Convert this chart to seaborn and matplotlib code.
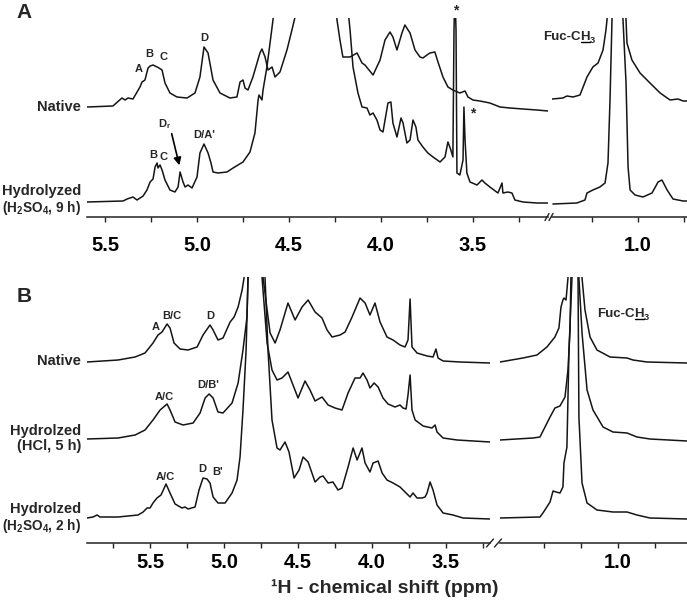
import numpy as np
import matplotlib
matplotlib.use("Agg")
import matplotlib.pyplot as plt
from matplotlib.lines import Line2D
from matplotlib.patches import FancyArrowPatch
from matplotlib.ticker import FormatStrFormatter
import seaborn as sns

W, H = 687, 602

# spectra: (ppm, intensity above the trace's own baseline)
# panel A, left window
a_native_left = [(5.598, 1), (5.457, 2), (5.408, 10), (5.391, 8), (5.375, 10), (5.348, 9), (5.310, 21),
                 (5.299, 26), (5.283, 28), (5.266, 40), (5.255, 42), (5.239, 43), (5.217, 41), (5.207, 40),
                 (5.190, 38), (5.174, 25), (5.147, 15), (5.109, 11), (5.054, 10), (5.011, 15), (4.984, 31),
                 (4.962, 61), (4.940, 55), (4.913, 28), (4.875, 15), (4.821, 10), (4.783, 11), (4.766, 26),
                 (4.750, 28), (4.739, 20), (4.723, 18), (4.696, 31), (4.658, 55), (4.647, 59), (4.630, 51),
                 (4.614, 38), (4.592, 41), (4.576, 31), (4.549, 36), (4.511, 58), (4.484, 78), (4.467, 91),
                 (4.457, 130), (4.348, 400), (4.250, 113), (4.239, 88), (4.223, 68), (4.207, 51), (4.168, 51),
                 (4.130, 55), (4.103, 45), (4.087, 43), (4.043, 33), (4.005, 48), (3.978, 68), (3.951, 76),
                 (3.935, 71), (3.913, 58), (3.886, 75), (3.870, 83), (3.842, 75), (3.815, 58), (3.788, 51),
                 (3.772, 50), (3.750, 53), (3.734, 55), (3.707, 56), (3.690, 46), (3.663, 31), (3.636, 21),
                 (3.609, 18), (3.571, 15), (3.543, 17), (3.527, 11), (3.500, 8), (3.462, 7), (3.408, 5),
                 (3.353, 1), (3.299, 0), (3.228, -1), (3.152, -2), (3.092, -3)]
a_hydro_left = [(5.598, 1), (5.402, 2), (5.380, 4), (5.348, 6), (5.326, 3), (5.293, 7), (5.272, 13),
                (5.255, 21), (5.239, 24), (5.228, 36), (5.217, 40), (5.212, 35), (5.201, 38), (5.190, 33),
                (5.174, 23), (5.147, 13), (5.120, 11), (5.103, 16), (5.092, 31), (5.076, 21), (5.065, 16),
                (5.049, 18), (5.027, 15), (5.000, 26), (4.984, 50), (4.962, 59), (4.940, 50), (4.924, 40),
                (4.913, 31), (4.886, 30), (4.837, 31), (4.804, 35), (4.750, 41), (4.712, 51), (4.685, 70),
                (4.668, 103), (4.663, 108), (4.647, 103), (4.641, 113), (4.620, 136), (4.603, 160),
                (4.587, 183), (4.576, 203), (4.576, 263), (4.185, 263), (4.179, 193), (4.168, 173),
                (4.152, 136), (4.125, 110), (4.103, 96), (4.076, 95), (4.060, 88), (4.043, 90), (4.022, 83),
                (4.005, 73), (3.989, 71), (3.962, 100), (3.946, 101), (3.935, 80), (3.913, 66), (3.891, 85),
                (3.880, 80), (3.859, 60), (3.842, 63), (3.826, 83), (3.810, 76), (3.799, 63), (3.772, 56),
                (3.745, 50), (3.717, 46), (3.679, 41), (3.652, 46), (3.636, 61), (3.620, 53), (3.609, 46),
                (3.603, 173), (3.598, 213), (3.592, 173), (3.587, 30), (3.571, 28), (3.554, 43), (3.549, 96),
                (3.543, 63), (3.533, 30), (3.516, 21), (3.478, 18), (3.451, 23), (3.435, 20), (3.408, 16),
                (3.364, 10), (3.342, 20), (3.337, 10), (3.310, 11), (3.288, 10), (3.272, 3), (3.228, 1),
                (3.152, 0), (3.092, 0)]
# panel A, right window (Fuc-CH3)
a_native_right = [(1.467, 9), (1.408, 10), (1.386, 12), (1.353, 11), (1.315, 13), (1.277, 31), (1.245, 41),
                  (1.217, 45), (1.190, 58), (1.174, 78), (1.163, 98), (1.158, 118), (1.071, 118), (1.065, 88),
                  (1.060, 65), (1.033, 48), (0.989, 35), (0.935, 25), (0.880, 15), (0.826, 8), (0.783, 9),
                  (0.755, 7), (0.734, 7)]
a_hydro_right = [(1.462, -1), (1.332, 0), (1.288, 3), (1.277, 10), (1.245, 13), (1.207, 16), (1.179, 20),
                 (1.163, 40), (1.152, 103), (1.141, 185), (1.136, 233), (1.087, 233), (1.082, 185),
                 (1.065, 120), (1.054, 36), (1.043, 13), (1.016, 8), (0.973, 6), (0.924, 10), (0.891, 21),
                 (0.870, 23), (0.842, 13), (0.810, 4), (0.755, 2), (0.734, 2)]

# panel B, left window
b_native_left = [(5.926, 0), (5.716, 2), (5.601, 5), (5.534, 9), (5.480, 19), (5.446, 27), (5.419, 30),
                 (5.385, 38), (5.365, 34), (5.338, 19), (5.297, 13), (5.243, 12), (5.182, 15), (5.142, 27),
                 (5.095, 37), (5.074, 32), (5.041, 22), (5.007, 24), (4.959, 40), (4.932, 45), (4.905, 55),
                 (4.878, 72), (4.865, 84), (4.851, 122), (4.797, 162), (4.743, 122), (4.736, 84), (4.709, 52),
                 (4.689, 29), (4.655, 19), (4.622, 32), (4.568, 59), (4.520, 42), (4.473, 55), (4.432, 62),
                 (4.385, 50), (4.338, 44), (4.304, 32), (4.270, 25), (4.216, 27), (4.182, 30), (4.135, 45),
                 (4.081, 64), (4.047, 59), (4.014, 47), (3.980, 59), (3.946, 40), (3.899, 25), (3.858, 22),
                 (3.811, 17), (3.777, 15), (3.757, 22), (3.743, 63), (3.730, 15), (3.696, 9), (3.628, 6),
                 (3.588, 5), (3.568, 13), (3.554, 4), (3.520, 1), (3.405, 0), (3.203, -1)]
b_hcl_left = [(5.926, 1), (5.716, 2), (5.601, 5), (5.534, 10), (5.480, 20), (5.432, 30), (5.385, 36),
              (5.365, 30), (5.331, 18), (5.277, 15), (5.209, 17), (5.162, 27), (5.128, 42), (5.101, 46),
              (5.074, 42), (5.041, 28), (5.007, 27), (4.946, 37), (4.905, 57), (4.872, 90), (4.845, 123),
              (4.838, 162), (4.831, 200), (4.791, 240), (4.750, 200), (4.743, 162), (4.709, 97), (4.676, 70),
              (4.642, 60), (4.608, 62), (4.568, 68), (4.534, 55), (4.500, 42), (4.453, 59), (4.419, 50),
              (4.385, 39), (4.338, 43), (4.297, 35), (4.250, 32), (4.203, 30), (4.162, 47), (4.115, 62),
              (4.081, 62), (4.061, 67), (4.034, 60), (4.014, 52), (3.986, 57), (3.959, 53), (3.926, 42),
              (3.892, 36), (3.845, 33), (3.811, 35), (3.791, 32), (3.770, 31), (3.757, 45), (3.743, 65),
              (3.730, 30), (3.709, 20), (3.655, 14), (3.595, 12), (3.574, 15), (3.561, 8), (3.520, 2),
              (3.426, 0), (3.203, -2)]
b_h2so4_left = [(5.926, 0), (5.885, 1), (5.858, 3), (5.838, 1), (5.716, 1), (5.581, 3), (5.547, 6),
                (5.520, 10), (5.500, 10), (5.480, 15), (5.453, 20), (5.426, 23), (5.392, 34), (5.365, 25),
                (5.331, 14), (5.284, 10), (5.264, 11), (5.243, 9), (5.196, 11), (5.169, 28), (5.142, 40),
                (5.115, 39), (5.095, 35), (5.074, 21), (5.041, 15), (4.993, 15), (4.946, 25), (4.912, 38),
                (4.892, 61), (4.872, 108), (4.851, 168), (4.838, 240), (4.831, 278), (4.777, 318),
                (4.730, 278), (4.723, 240), (4.703, 168), (4.676, 98), (4.642, 70), (4.622, 68), (4.588, 76),
                (4.561, 66), (4.527, 40), (4.493, 48), (4.466, 61), (4.432, 56), (4.385, 36), (4.351, 41),
                (4.331, 42), (4.297, 35), (4.264, 36), (4.230, 28), (4.203, 30), (4.162, 51), (4.128, 70),
                (4.101, 58), (4.068, 70), (4.047, 55), (4.014, 46), (3.993, 55), (3.959, 57), (3.932, 45),
                (3.899, 38), (3.858, 35), (3.811, 31), (3.777, 26), (3.743, 21), (3.723, 25), (3.696, 20),
                (3.662, 20), (3.642, 21), (3.628, 25), (3.608, 36), (3.588, 28), (3.561, 13), (3.520, 5),
                (3.453, 3), (3.385, 0), (3.203, -1)]
# panel B, right window (Fuc-CH3)
b_native_right = [(1.797, 0), (1.642, 4), (1.547, 7), (1.480, 15), (1.426, 25), (1.399, 34), (1.385, 55),
                  (1.372, 62), (1.365, 64), (1.351, 62), (1.338, 84), (1.331, 122), (1.291, 162), (1.250, 122),
                  (1.243, 84), (1.223, 52), (1.189, 25), (1.142, 12), (1.054, 5), (0.939, 4), (0.899, 2),
                  (0.804, 0), (0.534, -1)]
b_hcl_right = [(1.797, 0), (1.574, 2), (1.527, 3), (1.459, 23), (1.426, 32), (1.392, 34), (1.358, 43),
               (1.338, 70), (1.324, 110), (1.318, 162), (1.311, 200), (1.291, 240), (1.270, 200), (1.264, 162),
               (1.243, 107), (1.209, 50), (1.169, 30), (1.101, 13), (1.034, 8), (0.939, 7), (0.872, 3),
               (0.784, 1), (0.534, -1)]
b_h2so4_right = [(1.797, 0), (1.527, 1), (1.507, 5), (1.459, 16), (1.439, 27), (1.419, 26), (1.392, 25),
                 (1.372, 31), (1.365, 55), (1.345, 71), (1.331, 168), (1.311, 240), (1.291, 318), (1.270, 240),
                 (1.264, 101), (1.243, 35), (1.209, 15), (1.142, 8), (1.034, 6), (0.939, 6), (0.872, 3),
                 (0.784, 0), (0.534, -1)]

left_major = [5.5, 5.0, 4.5, 4.0, 3.5]

sns.set_theme(style="white")
plt.rcParams["font.family"] = ["Liberation Sans", "DejaVu Sans"]
plt.rcParams["font.weight"] = "bold"
plt.rcParams["mathtext.default"] = "regular"

fig = plt.figure(figsize=(W / 100, H / 100), dpi=100)
fig.patch.set_facecolor("white")


def px_axes(x0, x1, y0, y1):
    return fig.add_axes([x0 / W, 1 - y1 / H, (x1 - x0) / W, (y1 - y0) / H])


def ftext(x, y, s, **kw):
    kw.setdefault("ha", "center")
    kw.setdefault("va", "center")
    return fig.text(x / W, 1 - y / H, s, **kw)


panels = [
    dict(box=(87, 548, 18, 217), xlim=(5.598, 3.092), major=left_major, pad=10,
         minor=[5.25, 4.75, 4.25, 3.75, 3.25], traces=[(a_native_left, 109), (a_hydro_left, 14)]),
    dict(box=(552, 687, 18, 217), xlim=(1.467, 0.734), major=[1.0], pad=10,
         minor=[1.25, 0.75], traces=[(a_native_right, 109), (a_hydro_right, 14)]),
    dict(box=(87, 490, 277, 543), xlim=(5.926, 3.203), major=left_major, pad=4,
         minor=[5.75, 5.25, 4.75, 4.25, 3.75, 3.25],
         traces=[(b_native_left, 181), (b_hcl_left, 103), (b_h2so4_left, 25)]),
    dict(box=(500, 687, 277, 543), xlim=(1.797, 0.534), major=[1.0], pad=4,
         minor=[1.5, 1.25, 0.75],
         traces=[(b_native_right, 181), (b_hcl_right, 103), (b_h2so4_right, 25)]),
]

for p in panels:
    x0, x1, y0, y1 = p["box"]
    ax = px_axes(x0, x1, y0, y1)
    ax.patch.set_alpha(0)
    for pts, off in p["traces"]:
        xs, ys = zip(*pts)
        sns.lineplot(x=np.array(xs), y=np.array(ys) + off, ax=ax, sort=False,
                     estimator=None, color="#151515", lw=1.1)
    ax.set_xlim(*p["xlim"])
    ax.set_ylim(0, y1 - y0)
    ax.set_yticks([])
    ax.set_xticks(p["major"])
    ax.set_xticks(p["minor"], minor=True)
    ax.xaxis.set_major_formatter(FormatStrFormatter("%.1f"))
    ax.tick_params(which="both", axis="x", direction="out", length=3.5, width=1,
                   colors="#222222", labelsize=14.5, pad=p["pad"], bottom=True)
    for lab in ax.get_xticklabels():
        lab.set_fontweight("bold")
        lab.set_color("black")
    for s in ["left", "right", "top"]:
        ax.spines[s].set_visible(False)
    ax.spines["bottom"].set_color("#222222")
    ax.spines["bottom"].set_linewidth(1.1)
    ax.set_xlabel("")
    ax.set_ylabel("")


# axis break marks
def slash(xc, yc, dx, dy):
    fig.add_artist(Line2D([(xc - dx) / W, (xc + dx) / W], [1 - (yc + dy) / H, 1 - (yc - dy) / H],
                          transform=fig.transFigure, color="#222222", lw=1))


slash(547, 217, 2, 3.5)
slash(551, 217, 2, 3.5)
slash(490, 543, 3.5, 4)
slash(498, 543, 3.5, 4)

# panel letters
ftext(24, 12, "A", fontsize=15)
ftext(24, 296, "B", fontsize=15)

# sample names
side = dict(ha="right", fontsize=10.5)
side_small = dict(ha="right", fontsize=9.8)
ftext(81, 107, "Native", **side)
ftext(81, 191, "Hydrolyzed", **side)
ftext(81, 208, "(H$_2$SO$_4$, 9 h)", **side_small)
ftext(81, 361, "Native", **side)
ftext(81, 431, "Hydrolzed", **side)
ftext(81, 446, "(HCl, 5 h)", **side)
ftext(81, 509, "Hydrolzed", **side)
ftext(81, 526, "(H$_2$SO$_4$, 2 h)", **side_small)

# peak labels
pk = dict(fontsize=8)
ftext(139, 69, "A", **pk)
ftext(149, 54, "B", **pk)
ftext(163, 57, "C", **pk)
ftext(204, 38, "D", **pk)
ftext(153, 155, "B", **pk)
ftext(163, 157, "C", **pk)
ftext(165, 124, "D$_r$", **pk)
ftext(204, 135, "D/A'", **pk)
ftext(456, 10, "*", fontsize=10)
ftext(473, 113, "*", fontsize=10)
ftext(156, 327, "A", **pk)
ftext(172, 316, "B/C", **pk)
ftext(210, 316, "D", **pk)
ftext(164, 397, "A/C", **pk)
ftext(208, 385, "D/B'", **pk)
ftext(165, 477, "A/C", **pk)
ftext(202, 469, "D", **pk)
ftext(218, 472, "B'", **pk)

fig.add_artist(FancyArrowPatch((171 / W, 1 - 131 / H), (180 / W, 1 - 168 / H),
                               transform=fig.transFigure, arrowstyle="-|>",
                               mutation_scale=11, lw=1.2, color="black"))


def fuc_label(x, ybase, size):
    r = fig.canvas.get_renderer()
    t1 = ftext(x, ybase, "Fuc-C", fontsize=size, ha="left", va="baseline")
    e1 = t1.get_window_extent(r)
    t2 = fig.text(e1.x1 / W, 1 - ybase / H, "H", fontsize=size, ha="left", va="baseline")
    e2 = t2.get_window_extent(r)
    fig.add_artist(Line2D([e2.x0 / W, e2.x1 / W], [1 - (ybase + 1.5) / H] * 2,
                          transform=fig.transFigure, color="black", lw=1))
    fig.text(e2.x1 / W, 1 - (ybase + 3) / H, "3", fontsize=size * 0.7, ha="left", va="baseline")


fuc_label(543, 40, 9.5)
fuc_label(597, 317, 9.5)

ftext(385, 588, "\u00b9H - chemical shift (ppm)", fontsize=14)

fig.savefig("out.png", dpi=100, facecolor="white")
